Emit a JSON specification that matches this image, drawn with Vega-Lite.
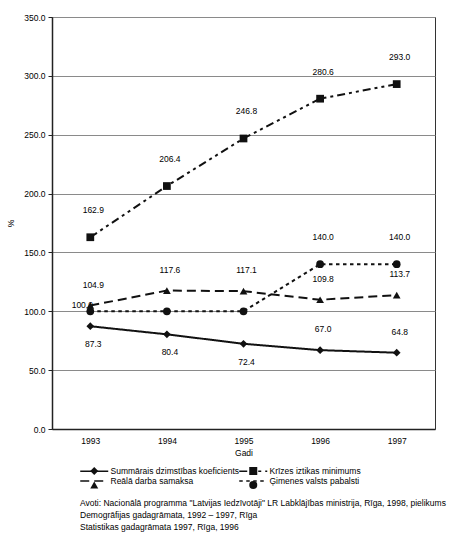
{
  "$schema": "https://vega.github.io/schema/vega-lite/v6.json",
  "width": 383,
  "height": 412,
  "autosize": "none",
  "padding": {"left": 52, "top": 17, "right": 15, "bottom": 109},
  "background": "white",
  "config": {
    "font": "Liberation Sans",
    "view": {"stroke": "#333", "strokeWidth": 1},
    "axis": {
      "labelFont": "Liberation Sans",
      "labelFontSize": 8.5,
      "labelColor": "#000",
      "titleFont": "Liberation Sans",
      "titleFontSize": 8.5,
      "titleFontWeight": "normal",
      "titleColor": "#000"
    },
    "legend": {"labelFont": "Liberation Sans", "labelFontSize": 8.5, "labelColor": "#000"}
  },
  "title": {
    "text": [
      "Avoti:  Nacionālā programma \"Latvijas Iedzīvotāji\" LR Labklājības ministrija, Rīga, 1998, pielikums",
      "\u00a0\u00a0\u00a0\u00a0\u00a0\u00a0\u00a0\u00a0\u00a0\u00a0\u00a0Demogrāfijas gadagrāmata, 1992 – 1997, Rīga",
      "\u00a0\u00a0\u00a0\u00a0\u00a0\u00a0\u00a0\u00a0\u00a0\u00a0\u00a0Statistikas gadagrāmata 1997, Rīga, 1996"
    ],
    "orient": "bottom",
    "anchor": "start",
    "frame": "group",
    "dx": 28,
    "offset": 7,
    "font": "Liberation Sans",
    "fontSize": 8.5,
    "fontWeight": "normal",
    "color": "#000",
    "lineHeight": 12
  },
  "data": {
    "values": [
      {"year": "1993", "series": "Summārais dzimstības koeficients", "value": 87.3},
      {"year": "1994", "series": "Summārais dzimstības koeficients", "value": 80.4},
      {"year": "1995", "series": "Summārais dzimstības koeficients", "value": 72.4},
      {"year": "1996", "series": "Summārais dzimstības koeficients", "value": 67.0},
      {"year": "1997", "series": "Summārais dzimstības koeficients", "value": 64.8},
      {"year": "1993", "series": "Krīzes iztikas minimums", "value": 162.9},
      {"year": "1994", "series": "Krīzes iztikas minimums", "value": 206.4},
      {"year": "1995", "series": "Krīzes iztikas minimums", "value": 246.8},
      {"year": "1996", "series": "Krīzes iztikas minimums", "value": 280.6},
      {"year": "1997", "series": "Krīzes iztikas minimums", "value": 293.0},
      {"year": "1993", "series": "Reālā darba samaksa", "value": 104.9},
      {"year": "1994", "series": "Reālā darba samaksa", "value": 117.6},
      {"year": "1995", "series": "Reālā darba samaksa", "value": 117.1},
      {"year": "1996", "series": "Reālā darba samaksa", "value": 109.8},
      {"year": "1997", "series": "Reālā darba samaksa", "value": 113.7},
      {"year": "1993", "series": "Ģimenes valsts pabalsti", "value": 100.0},
      {"year": "1994", "series": "Ģimenes valsts pabalsti", "value": 100.0},
      {"year": "1995", "series": "Ģimenes valsts pabalsti", "value": 100.0},
      {"year": "1996", "series": "Ģimenes valsts pabalsti", "value": 140.0},
      {"year": "1997", "series": "Ģimenes valsts pabalsti", "value": 140.0}
    ]
  },
  "resolve": {
    "scale": {"shape": "independent", "strokeDash": "independent"},
    "legend": {"shape": "independent", "strokeDash": "independent"}
  },
  "encoding": {
    "x": {
      "field": "year",
      "type": "ordinal",
      "scale": {"type": "point", "padding": 0.5},
      "axis": {
        "title": "Gadi",
        "labelAngle": 0,
        "ticks": false,
        "domainColor": "#222",
        "domainWidth": 1.5,
        "labelPadding": 7,
        "titlePadding": 4
      }
    },
    "y": {
      "field": "value",
      "type": "quantitative",
      "scale": {"domain": [0, 350], "nice": false},
      "axis": {
        "title": "%",
        "values": [0, 50, 100, 150, 200, 250, 300, 350],
        "format": ".1f",
        "gridColor": "#8a8a8a",
        "gridWidth": 1,
        "domainColor": "#222",
        "domainWidth": 1.5,
        "tickColor": "#222",
        "tickSize": 4,
        "labelPadding": 3,
        "titlePadding": 8
      }
    }
  },
  "layer": [
    {
      "transform": [{"filter": "datum.series === 'Krīzes iztikas minimums' || (datum.series === 'Ģimenes valsts pabalsti' && datum.year >= '1996')"}],
      "mark": {"type": "text", "dy": -27, "dx": 3, "fontSize": 8.5, "color": "#000"},
      "encoding": {"text": {"field": "value", "type": "quantitative", "format": ".1f"}}
    },
    {
      "transform": [{"filter": "datum.series === 'Reālā darba samaksa' || (datum.series === 'Summārais dzimstības koeficients' && datum.year >= '1996')"}],
      "mark": {"type": "text", "dy": -21, "dx": 3, "fontSize": 8.5, "color": "#000"},
      "encoding": {"text": {"field": "value", "type": "quantitative", "format": ".1f"}}
    },
    {
      "transform": [{"filter": "datum.series === 'Summārais dzimstības koeficients' && datum.year <= '1995'"}],
      "mark": {"type": "text", "dy": 18, "dx": 3, "fontSize": 8.5, "color": "#000"},
      "encoding": {"text": {"field": "value", "type": "quantitative", "format": ".1f"}}
    },
    {
      "transform": [{"filter": "datum.series === 'Ģimenes valsts pabalsti' && datum.year === '1993'"}],
      "mark": {"type": "text", "dy": -6, "dx": -8, "fontSize": 8.5, "color": "#000"},
      "encoding": {"text": {"field": "value", "type": "quantitative", "format": ".1f"}}
    },
    {
      "mark": {"type": "line", "color": "#111", "strokeWidth": 2},
      "encoding": {
        "detail": {"field": "series"},
        "strokeDash": {
          "field": "series",
          "type": "nominal",
          "scale": {
            "domain": ["Summārais dzimstības koeficients", "Krīzes iztikas minimums", "Reālā darba samaksa", "Ģimenes valsts pabalsti"],
            "range": [[1, 0], [8, 4, 3, 4, 3, 4], [9, 5], [3.5, 3.5]]
          },
          "legend": {
            "title": null,
            "orient": "none",
            "legendX": 28,
            "legendY": 449,
            "direction": "horizontal",
            "columns": 2,
            "columnPadding": -10,
            "rowPadding": 0,
            "symbolType": "M-1.19,0H5.81",
            "symbolSize": 64,
            "symbolStrokeWidth": 1.5,
            "symbolStrokeColor": "#111",
            "labelOffset": 20.5
          }
        }
      }
    },
    {
      "mark": {"type": "point", "filled": true, "color": "#111", "opacity": 1, "size": 60},
      "encoding": {
        "shape": {
          "field": "series",
          "type": "nominal",
          "scale": {
            "domain": ["Summārais dzimstības koeficients", "Krīzes iztikas minimums", "Reālā darba samaksa", "Ģimenes valsts pabalsti"],
            "range": ["diamond", "square", "triangle-up", "circle"]
          },
          "legend": {
            "title": null,
            "orient": "none",
            "legendX": 37.25,
            "legendY": 449,
            "direction": "horizontal",
            "columns": 2,
            "columnPadding": -10,
            "rowPadding": 0,
            "symbolSize": 64,
            "symbolStrokeWidth": 1.5,
            "symbolFillColor": "#111",
            "labelOffset": 20.5,
            "labelOpacity": 0
          }
        }
      }
    }
  ]
}
